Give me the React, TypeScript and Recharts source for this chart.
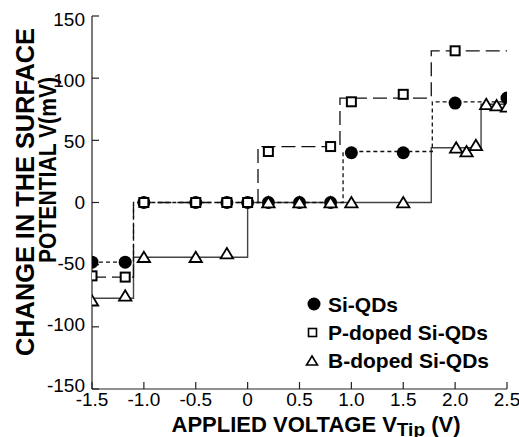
import React from 'react';
import { ComposedChart, Line, Scatter, XAxis, YAxis } from 'recharts';

// Axis ticks
const xTicks = [-1.5, -1.0, -0.5, 0, 0.5, 1.0, 1.5, 2.0, 2.5];
const xTickLabels = ['-1.5', '-1.0', '-0.5', '0', '0.5', '1.0', '1.5', '2.0', '2.5'];
const yTicks = [-150, -100, -50, 0, 50, 100, 150];

// Si-QDs measured points
const siX = [-1.5, -1.18, -1.0, -0.5, -0.2, 0.0, 0.2, 0.5, 0.8, 1.0, 1.5, 2.0, 2.5];
const siY = [-48, -48, 0, 0, 0, 0, 0, 0, 0, 40, 40, 80, 84];
// P-doped Si-QDs measured points
const pX = [-1.5, -1.18, -1.0, -0.5, -0.2, 0.0, 0.2, 0.8, 1.0, 1.5, 2.0];
const pY = [-59, -60, 0, 0, 0, 0, 41, 45, 81, 87, 122];
// B-doped Si-QDs measured points
const bX = [-1.5, -1.18, -1.0, -0.5, -0.2, 0.2, 0.5, 0.8, 1.0, 1.5, 2.01, 2.11, 2.2, 2.3, 2.4, 2.5];
const bY = [-79, -75, -44, -44, -41, 0, 0, 0, 0, 0, 44, 41, 46, 79, 78, 77];

// Step-line breakpoints (stepAfter)
const siStepX = [-1.5, -1.1, 0.92, 1.78, 2.5];
const siStepY = [-48, 0, 41, 81, 81];
const pStepX = [-1.5, -1.1, 0.1, 0.89, 1.77, 2.5];
const pStepY = [-60, 0, 45, 84, 122, 122];
const bStepX = [-1.5, -1.1, 0.0, 1.77, 2.25, 2.5];
const bStepY = [-77, -44, 0, 44, 79, 79];

const zip = (xs: number[], ys: number[]) => xs.map((x, i) => ({ x, y: ys[i] }));
const siPts = zip(siX, siY);
const pPts = zip(pX, pY);
const bPts = zip(bX, bY);
const siStep = zip(siStepX, siStepY);
const pStep = zip(pStepX, pStepY);
const bStep = zip(bStepX, bStepY);

const FONT = '"Liberation Sans", Arial, Helvetica, sans-serif';

const DotShape = (p: any) => <circle cx={p.cx} cy={p.cy} r={6.5} fill="#000" />;
const SqShape = (p: any) => (
  <rect x={p.cx - 4.5} y={p.cy - 4.5} width={9} height={9} fill="#fff" stroke="#000" strokeWidth={2} />
);
const TriShape = (p: any) => (
  <path
    d={`M${p.cx},${p.cy - 5.5} L${p.cx + 6.2},${p.cy + 4.8} L${p.cx - 6.2},${p.cy + 4.8} Z`}
    fill="#fff"
    stroke="#000"
    strokeWidth={1.8}
  />
);

const fmtX = (v: number) => {
  const i = xTicks.indexOf(v);
  return i >= 0 ? xTickLabels[i] : String(v);
};

// y tick labels are drawn slightly pulled towards the middle, as in the reference
const YTick = (props: any) => {
  const { x, y, payload } = props;
  const v = payload.value as number;
  const shift = v * 0.022;
  return (
    <text x={x} y={y + shift} dy="0.355em" textAnchor="end" fill="#000" fontSize={19} fontFamily={FONT}>
      {String(v)}
    </text>
  );
};

export default function App() {
  const tickStyle = { fill: '#000', fontSize: 19, fontFamily: FONT };
  return (
    <div style={{ position: 'absolute', left: 0, top: 0, width: 519, height: 437, background: '#fff' }}>
      <ComposedChart width={519} height={437} margin={{ top: 16, right: 12, bottom: 18, left: 0 }}>
        <XAxis
          type="number"
          dataKey="x"
          domain={[-1.5, 2.5]}
          ticks={xTicks}
          tickFormatter={fmtX}
          interval={0}
          height={30}
          tickSize={-7}
          tickMargin={11}
          stroke="#222"
          strokeWidth={1.2}
          tick={tickStyle}
          allowDataOverflow
        />
        <XAxis
          xAxisId="top"
          orientation="top"
          type="number"
          domain={[-1.5, 2.5]}
          ticks={xTicks}
          interval={0}
          height={0}
          tickSize={-7}
          tick={false}
          stroke="#222"
          strokeWidth={1.2}
          allowDataOverflow
        />
        <YAxis
          type="number"
          dataKey="y"
          domain={[-150, 150]}
          ticks={yTicks}
          interval={0}
          width={92}
          tickSize={-7}
          tickMargin={14}
          stroke="#222"
          strokeWidth={1.2}
          tick={<YTick />}
          allowDataOverflow
        />
        <YAxis
          yAxisId="right"
          orientation="right"
          type="number"
          domain={[-150, 150]}
          ticks={yTicks}
          interval={0}
          width={0}
          tickSize={-7}
          tick={false}
          stroke="#222"
          strokeWidth={1.2}
          allowDataOverflow
        />
        <Line data={bStep} dataKey="y" type="stepAfter" stroke="#444" strokeWidth={1.4} dot={false} isAnimationActive={false} />
        <Line data={pStep} dataKey="y" type="stepAfter" stroke="#111" strokeWidth={1.3} strokeDasharray="14 6" dot={false} isAnimationActive={false} />
        <Line data={siStep} dataKey="y" type="stepAfter" stroke="#111" strokeWidth={1.3} strokeDasharray="4 3" dot={false} isAnimationActive={false} />
        <Scatter data={siPts} dataKey="y" shape={DotShape} isAnimationActive={false} />
        <Scatter data={pPts} dataKey="y" shape={SqShape} isAnimationActive={false} />
        <Scatter data={bPts} dataKey="y" shape={TriShape} isAnimationActive={false} />
      </ComposedChart>
      <svg
        width={519}
        height={437}
        style={{ position: 'absolute', left: 0, top: 0, pointerEvents: 'none' }}
      >
        <g fontFamily={FONT} fontWeight="bold" fill="#000">
          <text
            transform="translate(34,192) rotate(-90)"
            textAnchor="middle"
            fontSize={25}
            textLength={328}
            lengthAdjust="spacingAndGlyphs"
          >
            CHANGE IN THE SURFACE
          </text>
          <text
            transform="translate(56,170) rotate(-90)"
            textAnchor="middle"
            fontSize={24}
            textLength={186}
            lengthAdjust="spacingAndGlyphs"
          >
            POTENTIAL V(mV)
          </text>
          <text x={316} y={432} textAnchor="middle" fontSize={22}>
            APPLIED VOLTAGE V
            <tspan fontSize={19} dy={4}>Tip</tspan>
            <tspan dy={-4}> (V)</tspan>
          </text>
          {/* legend */}
          <circle cx={314} cy={304} r={6.5} fill="#000" />
          <rect x={308.5} y={328.5} width={8} height={8} fill="#fff" stroke="#000" strokeWidth={1.6} />
          <path d="M312,356 L317.5,365 L306.5,365 Z" fill="#fff" stroke="#000" strokeWidth={1.6} />
          <text x={328} y={311.5} fontSize={21}>Si-QDs</text>
          <text x={328} y={340} fontSize={21}>P-doped Si-QDs</text>
          <text x={328} y={368} fontSize={21}>B-doped Si-QDs</text>
        </g>
      </svg>
    </div>
  );
}
